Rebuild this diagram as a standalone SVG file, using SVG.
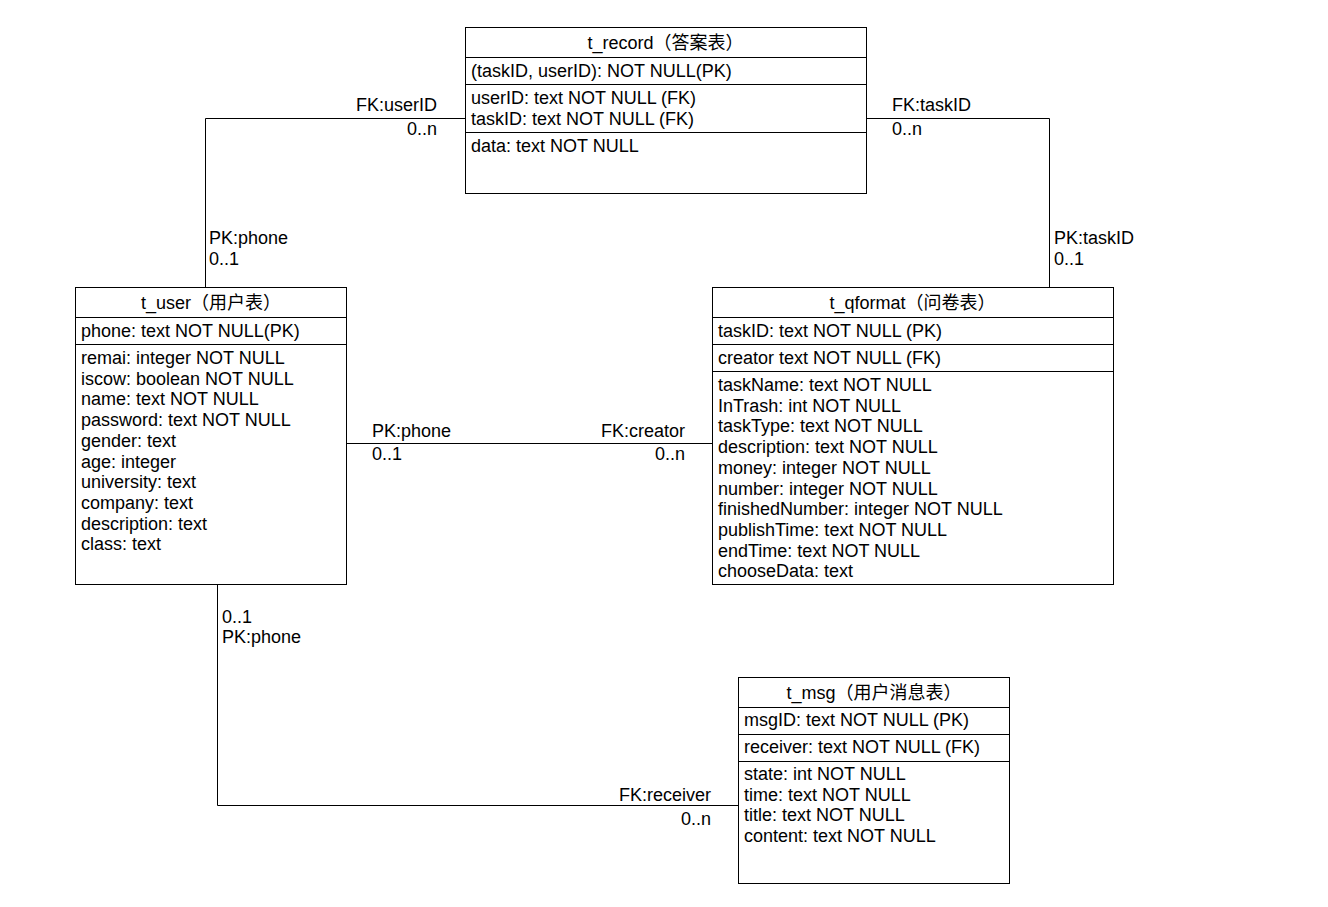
<svg xmlns="http://www.w3.org/2000/svg" width="1328" height="907" viewBox="0 0 1328 907">
<style>
text{font-family:"Liberation Sans",Arial,"Noto Sans CJK SC",sans-serif;font-size:18px;fill:#000}
.t{text-anchor:middle}
.r{text-anchor:end}
.box{fill:#fff;stroke:#000;stroke-width:1}
.div{stroke:#000;stroke-width:1}
.conn{fill:none;stroke:#000;stroke-width:1}
</style>
<rect width="1328" height="907" fill="#fff"/>
<g id="connectors">
<path class="conn" d="M465,118.5 H205.5 V287"/>
<path class="conn" d="M866,118.5 H1049.5 V287"/>
<path class="conn" d="M346,443.5 H712"/>
<path class="conn" d="M217.5,584 V805.5 H738"/>
<text class="r" x="437" y="111">FK:userID</text>
<text class="r" x="437" y="134.5">0..n</text>
<text x="209" y="244">PK:phone</text>
<text x="209" y="265">0..1</text>
<text x="892" y="111">FK:taskID</text>
<text x="892" y="134.5">0..n</text>
<text x="1054" y="244">PK:taskID</text>
<text x="1054" y="265">0..1</text>
<text x="372" y="437">PK:phone</text>
<text x="372" y="459.5">0..1</text>
<text class="r" x="685" y="437">FK:creator</text>
<text class="r" x="685" y="459.5">0..n</text>
<text x="222" y="622.5">0..1</text>
<text x="222" y="643">PK:phone</text>
<text class="r" x="711" y="801">FK:receiver</text>
<text class="r" x="711" y="824.5">0..n</text>
</g>
<g id="t_record">
<rect class="box" x="465.5" y="27.5" width="401" height="166"/>
<line class="div" x1="465" y1="57.5" x2="866" y2="57.5"/>
<line class="div" x1="465" y1="84.5" x2="866" y2="84.5"/>
<line class="div" x1="465" y1="132.5" x2="866" y2="132.5"/>
<text class="t" x="665.5" y="49">t_record（答案表）</text>
<text x="471" y="77">(taskID, userID): NOT NULL(PK)</text>
<text x="471" y="104">userID: text NOT NULL (FK)</text>
<text x="471" y="124.7">taskID: text NOT NULL (FK)</text>
<text x="471" y="152">data: text NOT NULL</text>
</g>
<g id="t_user">
<rect class="box" x="75.5" y="287.5" width="271" height="297"/>
<line class="div" x1="75" y1="317.5" x2="346" y2="317.5"/>
<line class="div" x1="75" y1="344.5" x2="346" y2="344.5"/>
<text class="t" x="211" y="309">t_user（用户表）</text>
<text x="81" y="337">phone: text NOT NULL(PK)</text>
<text x="81" y="364">remai: integer NOT NULL</text>
<text x="81" y="384.7">iscow: boolean NOT NULL</text>
<text x="81" y="405.4">name: text NOT NULL</text>
<text x="81" y="426.1">password: text NOT NULL</text>
<text x="81" y="446.8">gender: text</text>
<text x="81" y="467.5">age: integer</text>
<text x="81" y="488.2">university: text</text>
<text x="81" y="508.9">company: text</text>
<text x="81" y="529.6">description: text</text>
<text x="81" y="550.3">class: text</text>
</g>
<g id="t_qformat">
<rect class="box" x="712.5" y="287.5" width="401" height="297"/>
<line class="div" x1="712" y1="317.5" x2="1113" y2="317.5"/>
<line class="div" x1="712" y1="344.5" x2="1113" y2="344.5"/>
<line class="div" x1="712" y1="371.5" x2="1113" y2="371.5"/>
<text class="t" x="912.5" y="309">t_qformat（问卷表）</text>
<text x="718" y="337">taskID: text NOT NULL (PK)</text>
<text x="718" y="364">creator text NOT NULL (FK)</text>
<text x="718" y="391">taskName: text NOT NULL</text>
<text x="718" y="411.7">InTrash: int NOT NULL</text>
<text x="718" y="432.4">taskType: text NOT NULL</text>
<text x="718" y="453.1">description: text NOT NULL</text>
<text x="718" y="473.8">money: integer NOT NULL</text>
<text x="718" y="494.5">number: integer NOT NULL</text>
<text x="718" y="515.2">finishedNumber: integer NOT NULL</text>
<text x="718" y="535.9">publishTime: text NOT NULL</text>
<text x="718" y="556.6">endTime: text NOT NULL</text>
<text x="718" y="577.3">chooseData: text</text>
</g>
<g id="t_msg">
<rect class="box" x="738.5" y="677.5" width="271" height="206"/>
<line class="div" x1="738" y1="707.5" x2="1009" y2="707.5"/>
<line class="div" x1="738" y1="734.5" x2="1009" y2="734.5"/>
<line class="div" x1="738" y1="761.5" x2="1009" y2="761.5"/>
<text class="t" x="874" y="698.5">t_msg（用户消息表）</text>
<text x="744" y="726">msgID: text NOT NULL (PK)</text>
<text x="744" y="753">receiver: text NOT NULL (FK)</text>
<text x="744" y="780">state: int NOT NULL</text>
<text x="744" y="800.7">time: text NOT NULL</text>
<text x="744" y="821.4">title: text NOT NULL</text>
<text x="744" y="842.1">content: text NOT NULL</text>
</g>
</svg>
